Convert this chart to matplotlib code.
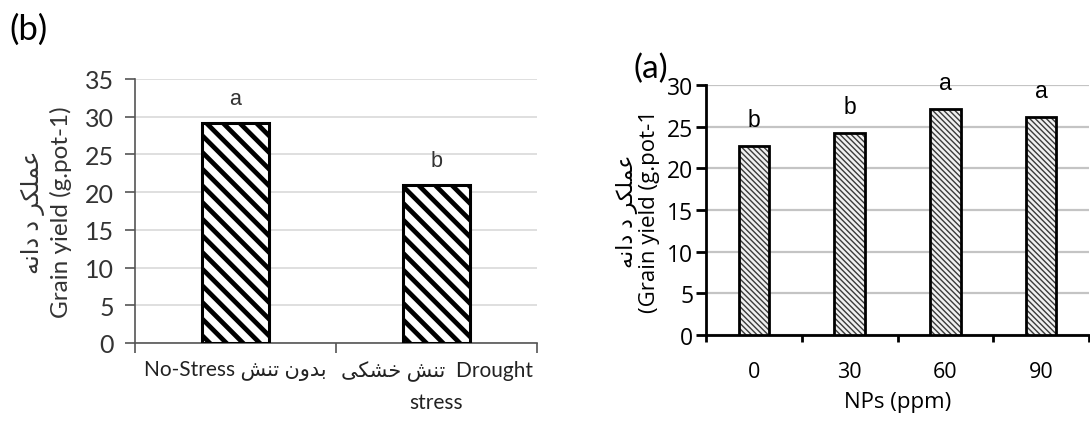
import matplotlib
matplotlib.use('Agg')
import matplotlib.pyplot as plt
import numpy as np

# panel (b): water treatment
stress_fa = ['بدون تنش', 'تنش خشکی']
stress_en = ['No-Stress', 'Drought\nstress']
stress_yield = [29.1, 20.9]
stress_letters = ['a', 'b']

# panel (a): nanoparticle dose
nps_labels = ['0', '30', '60', '90']
nps_yield = [22.7, 24.2, 27.1, 26.2]
nps_letters = ['b', 'b', 'a', 'a']

ylabel_fa = 'عملکر د دانه'

# presentation forms: isolated, final, initial, medial
FORMS = {
    'ا': (0xFE8D, 0xFE8E, None, None),
    'ب': (0xFE8F, 0xFE90, 0xFE91, 0xFE92),
    'ت': (0xFE95, 0xFE96, 0xFE97, 0xFE98),
    'خ': (0xFEA5, 0xFEA6, 0xFEA7, 0xFEA8),
    'د': (0xFEA9, 0xFEAA, None, None),
    'ر': (0xFEAD, 0xFEAE, None, None),
    'ش': (0xFEB5, 0xFEB6, 0xFEB7, 0xFEB8),
    'ع': (0xFEC9, 0xFECA, 0xFECB, 0xFECC),
    'ک': (0xFED9, 0xFEDA, 0xFEDB, 0xFEDC),
    'ل': (0xFEDD, 0xFEDE, 0xFEDF, 0xFEE0),
    'م': (0xFEE1, 0xFEE2, 0xFEE3, 0xFEE4),
    'ن': (0xFEE5, 0xFEE6, 0xFEE7, 0xFEE8),
    'ه': (0xFEE9, 0xFEEA, 0xFEEB, 0xFEEC),
    'و': (0xFEED, 0xFEEE, None, None),
    'ی': (0xFEEF, 0xFEF0, 0xFBFE, 0xFBFF),
}


def shape(text):
    # matplotlib has no bidi/shaping, so do it by hand
    out = []
    for i, c in enumerate(text):
        if c not in FORMS:
            out.append(c)
            continue
        iso, fin, ini, med = FORMS[c]
        prev = text[i - 1] if i > 0 else None
        nxt = text[i + 1] if i + 1 < len(text) else None
        join_prev = prev in FORMS and FORMS[prev][2] is not None
        join_next = ini is not None and nxt in FORMS
        if join_prev and join_next:
            code = med
        elif join_prev:
            code = fin
        elif join_next:
            code = ini
        else:
            code = iso
        out.append(chr(code))
    return ''.join(reversed(out))


CAL = ['Lato', 'DejaVu Sans']
SEG = ['Open Sans', 'DejaVu Sans']
ARI = ['Liberation Sans', 'DejaVu Sans']

fig = plt.figure(figsize=(10.9, 4.31), dpi=100)

# ---------------- panel (b) ----------------
ax1 = fig.add_axes([0.1239, 0.2019, 0.3688, 0.6125])
x1 = np.arange(len(stress_yield))
bars1 = ax1.bar(x1, stress_yield, width=0.33, color='white', edgecolor='black',
                linewidth=2.2, hatch='\\\\', zorder=3)
for b in bars1:
    if hasattr(b, 'set_hatch_linewidth'):
        b.set_hatch_linewidth(3.4)
for xi, v, lt in zip(x1, stress_yield, stress_letters):
    ax1.annotate(lt, (xi, v), xytext=(0, 18), textcoords='offset points',
                 ha='center', va='center', fontsize=15.5, color='#333333', family=ARI)

ax1.set_xlim(-0.5, 1.5)
ax1.set_ylim(0, 35)
ax1.set_yticks(np.arange(0, 36, 5))
ax1.yaxis.grid(True, color='#d9d9d9', linewidth=1.2, zorder=0)
ax1.set_axisbelow(True)
for s in ['top', 'right']:
    ax1.spines[s].set_visible(False)
for s in ['left', 'bottom']:
    ax1.spines[s].set_color('#555555')
    ax1.spines[s].set_linewidth(1.2)

tick_lbls = ['No-Stress ' + shape(stress_fa[0]),
             shape(stress_fa[1]) + '  ' + stress_en[1]]
ax1.set_xticks(x1)
ax1.set_xticklabels(tick_lbls, family=CAL, fontsize=15, color='#222222',
                    linespacing=1.7)
ax1.tick_params(axis='x', which='major', length=0, pad=12)
ax1.set_xticks([-0.5, 0.5, 1.5], minor=True)
ax1.tick_params(axis='x', which='minor', length=7, width=1.2, color='#555555')
ax1.tick_params(axis='y', length=7, width=1.2, color='#555555', pad=8,
                labelsize=18, labelcolor='#333333')
for t in ax1.get_yticklabels():
    t.set_family(CAL)

ax1.set_ylabel(shape(ylabel_fa) + '\nGrain yield (g.pot-1)', family=CAL,
               fontsize=17.5, color='#333333', linespacing=1.25)
ax1.yaxis.set_label_coords(-0.158, 0.5)

fig.text(0.009, 0.93, '(b)', family=CAL, fontsize=25, color='black', va='center')

# ---------------- panel (a) ----------------
ax2 = fig.add_axes([0.6477, 0.2204, 0.3514, 0.58])
x2 = np.arange(len(nps_yield))
# hatch layer, then black outline on top
ax2.bar(x2, nps_yield, width=0.32, color='#f0f0f0', edgecolor='#3a3a3a',
        linewidth=0, hatch='\\' * 6, zorder=3)
ax2.bar(x2, nps_yield, width=0.32, fill=False, edgecolor='black',
        linewidth=2, zorder=4)
for xi, v, lt in zip(x2, nps_yield, nps_letters):
    ax2.annotate(lt, (xi, v), xytext=(0, 19), textcoords='offset points',
                 ha='center', va='center', fontsize=16.5, color='black', family=ARI)

ax2.set_xlim(-0.5, 3.5)
ax2.set_ylim(0, 30)
ax2.set_yticks(np.arange(0, 31, 5))
ax2.yaxis.grid(True, color='#c4c4c4', linewidth=1.6, zorder=0)
ax2.set_axisbelow(True)
for s in ['top', 'right']:
    ax2.spines[s].set_visible(False)
for s in ['left', 'bottom']:
    ax2.spines[s].set_color('black')
    ax2.spines[s].set_linewidth(2)

ax2.set_xticks(x2)
ax2.set_xticklabels(nps_labels, family=SEG, fontsize=15.5)
ax2.tick_params(axis='x', which='major', length=0, pad=19)
ax2.set_xticks(np.arange(-0.5, 4, 1), minor=True)
ax2.tick_params(axis='x', which='minor', length=5, width=2)
ax2.tick_params(axis='y', length=7, width=2, pad=2, labelsize=16.5)
for t in ax2.get_yticklabels():
    t.set_family(SEG)

ax2.set_xlabel('NPs (ppm)', family=SEG, fontsize=16, labelpad=6)
ax2.set_ylabel(shape(ylabel_fa) + '\n(Grain yield (g.pot-1', family=SEG,
               fontsize=16, linespacing=1.05)
ax2.yaxis.set_label_coords(-0.12, 0.5)

fig.text(0.581, 0.84, '(a)', family=CAL, fontsize=24, color='black', va='center')

fig.savefig('out.png', dpi=100)
